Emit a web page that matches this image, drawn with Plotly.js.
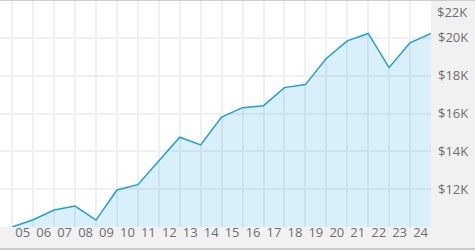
<!DOCTYPE html>
<html>
<head>
<meta charset="utf-8">
<script src="https://cdn.plot.ly/plotly-3.0.1.min.js"></script>
<style>
html,body{margin:0;padding:0;background:#f1f1f1;}
#chart{width:475px;height:250px;}
</style>
</head>
<body>
<div id="chart"></div>
<script>
// Year-end dates of the series
const years = [2004,2005,2006,2007,2008,2009,2010,2011,2012,2013,2014,2015,2016,2017,2018,2019,2020,2021,2022,2023,2024];
// Growth of $10,000
const values = [10000,10382,10896,11108,10366,11958,12239,13510,14748,14344,15810,16308,16414,17369,17528,18907,19841,20233,18430,19735,20233];
// x-axis tick labels (years 2005..2024)
const tickYears = [2005,2006,2007,2008,2009,2010,2011,2012,2013,2014,2015,2016,2017,2018,2019,2020,2021,2022,2023,2024];
const tickLabels = ['05','06','07','08','09','10','11','12','13','14','15','16','17','18','19','20','21','22','23','24'];
// y-axis ticks
const yTickVals = [12000,14000,16000,18000,20000];
const yTickText = ['$12K','$14K','$16K','$18K','$20K'];
const yTopVal = 22000;
const yTopText = '$22K';

const xDates = years.map(y => y + '-12-31');
const W = 475, H = 250, mT = 0, mB = 23;
const plotH = H - mT - mB;

const trace = {
  x: xDates,
  y: values,
  type: 'scatter',
  mode: 'lines',
  line: {color: '#1ba1e2', width: 1.5},
  fill: 'tozeroy',
  fillcolor: 'rgba(27,161,226,0.17)',
  hoverinfo: 'skip'
};

const layout = {
  width: W, height: H,
  margin: {l: 0, r: 44, t: mT, b: mB, pad: 0},
  paper_bgcolor: '#f1f1f1',
  plot_bgcolor: '#ffffff',
  showlegend: false,
  font: {family: '"Open Sans", sans-serif', size: 13, color: '#6e6e6e'},
  xaxis: {
    type: 'date',
    range: ['2004-05-31', '2024-12-31'],
    anchor: 'free',
    position: 4 / plotH,
    tickmode: 'array',
    tickvals: tickYears.map(y => y + '-07-02'),
    ticktext: tickLabels,
    showgrid: false,
    zeroline: false,
    showline: false,
    ticks: '',
    tickfont: {size: 13, color: '#6e6e6e'},
    minor: {
      tickmode: 'array',
      tickvals: tickYears.map(y => y + '-01-01'),
      showgrid: true,
      gridcolor: '#f0f0f0',
      gridwidth: 2,
      ticks: ''
    }
  },
  yaxis: {
    side: 'right',
    range: [10000, 22000],
    tickmode: 'array',
    tickvals: yTickVals,
    ticktext: yTickText,
    showgrid: true,
    gridcolor: '#f0f0f0',
    gridwidth: 2,
    zeroline: false,
    showline: false,
    ticks: '',
    ticklabelstandoff: 6,
    tickfont: {size: 13, color: '#6e6e6e'}
  },
  annotations: [{
    xref: 'paper', yref: 'y',
    x: 1, y: yTopVal,
    xanchor: 'left', yanchor: 'top',
    xshift: 4, yshift: -1,
    text: yTopText,
    showarrow: false,
    font: {size: 13, color: '#6e6e6e'}
  }],
  shapes: [
    {type: 'line', xref: 'paper', yref: 'paper', x0: -0.01, x1: 1.2, y0: 1 - 0.5/plotH, y1: 1 - 0.5/plotH,
     line: {color: '#cccccc', width: 1}},
    {type: 'line', xref: 'paper', yref: 'paper', x0: -0.01, x1: 1.2, y0: -(249 - (H - mB)) / plotH, y1: -(249 - (H - mB)) / plotH,
     line: {color: '#cccccc', width: 2}}
  ]
};

Plotly.newPlot('chart', [trace], layout, {displayModeBar: false, staticPlot: true});
</script>
</body>
</html>
